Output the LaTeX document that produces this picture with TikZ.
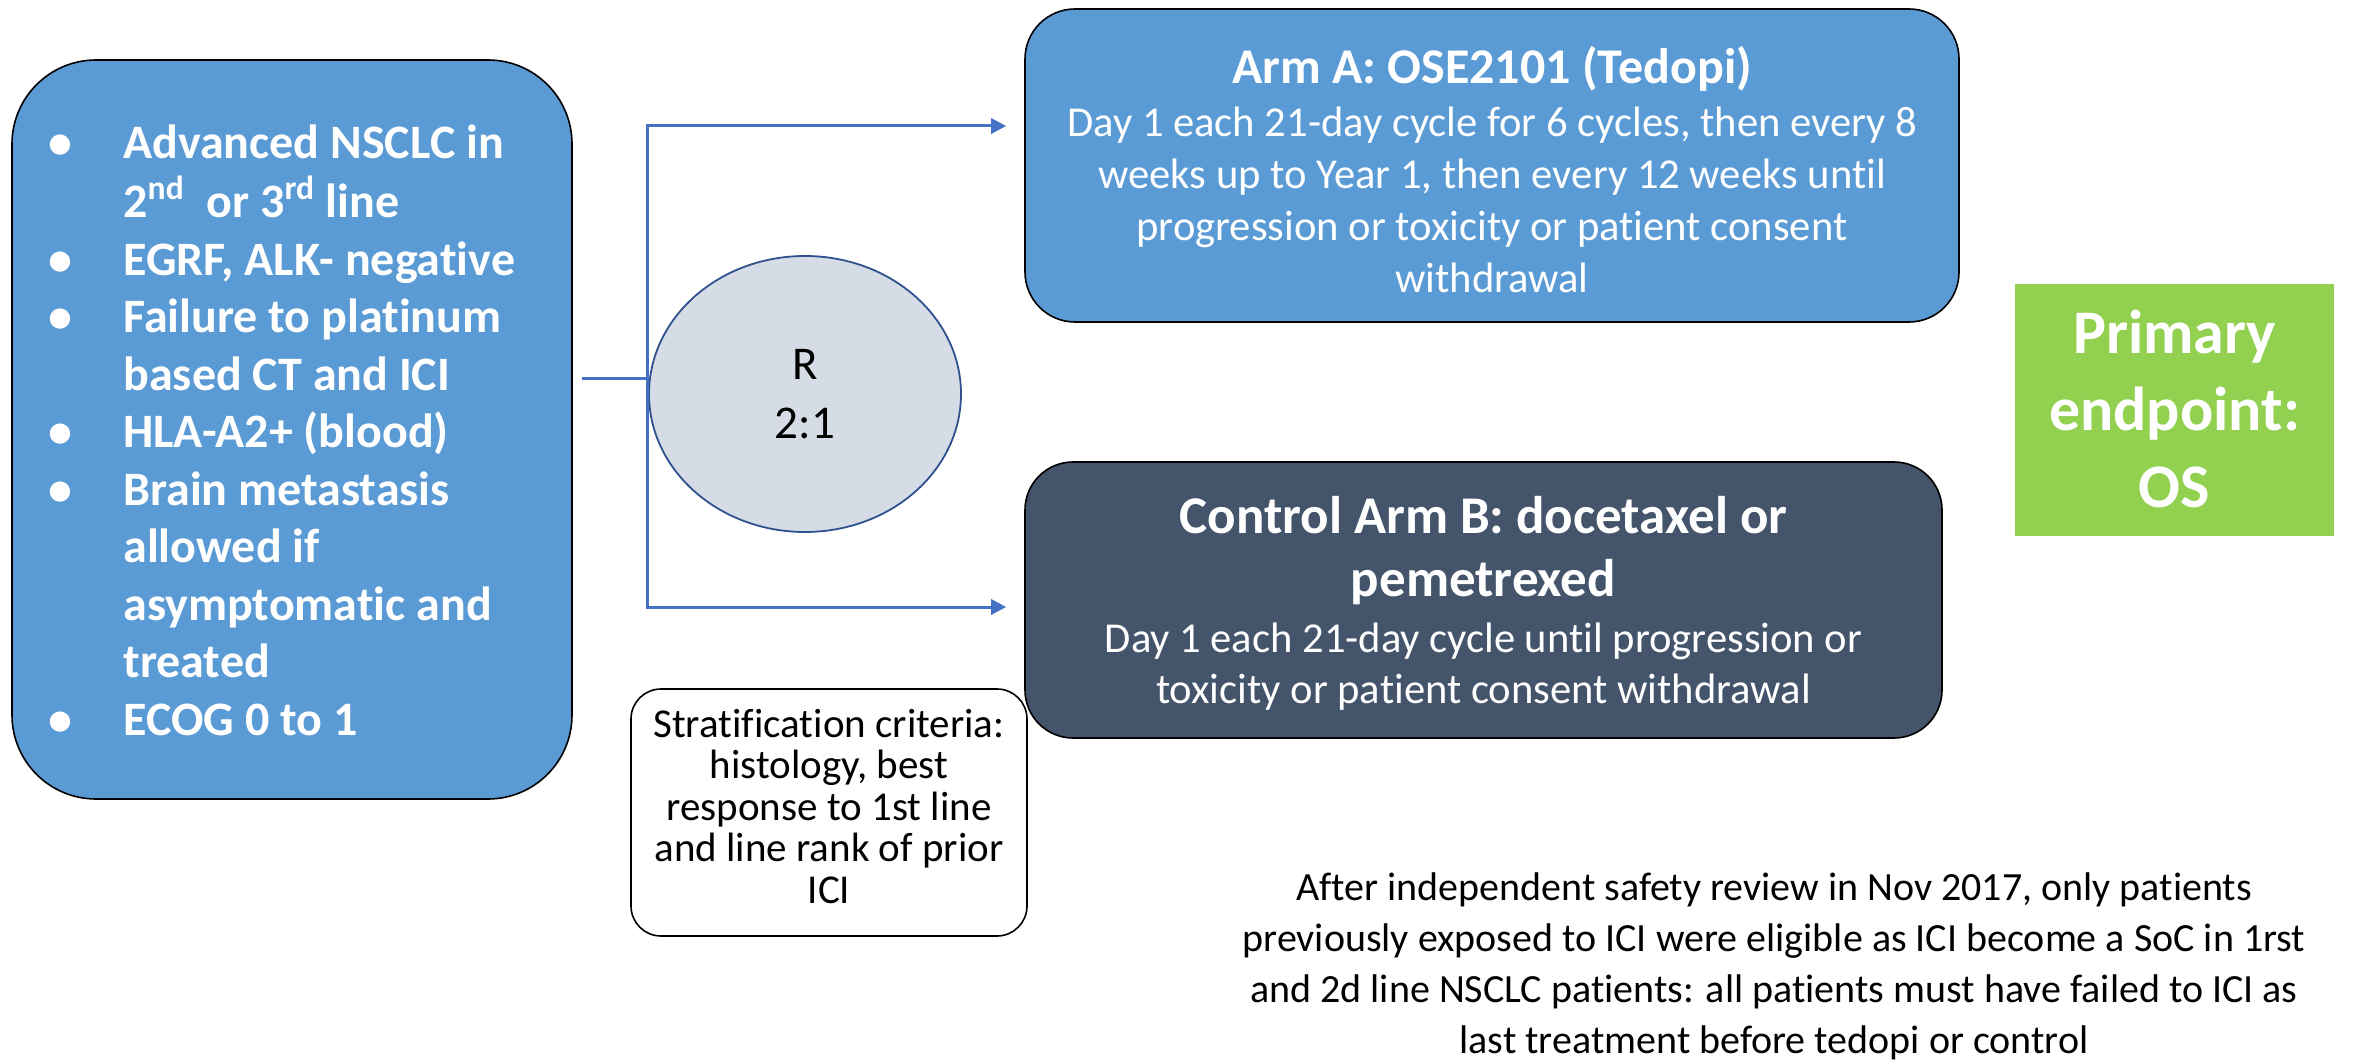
\documentclass[tikz,border=0pt]{standalone}
\usepackage{fontspec}
\setmainfont{Carlito}[Ligatures=NoCommon]
\usetikzlibrary{arrows.meta,shapes.geometric}
\definecolor{boxblue}{HTML}{5B9BD5}
\definecolor{slatebox}{HTML}{44546A}
\definecolor{linkblue}{HTML}{4472C4}
\definecolor{ellfill}{HTML}{D6DCE5}
\definecolor{elldraw}{HTML}{2F528F}
\definecolor{endgreen}{HTML}{92D050}
\begin{document}
\begin{tikzpicture}[x=0.5pt,y=-0.5pt,
  roundbox/.style={draw=black, line width=0.8pt, inner sep=0pt},
  link/.style={draw=linkblue, line width=1.5pt},
  wtext/.style={text=white, inner sep=0pt, anchor=base},
  ktext/.style={text=black, inner sep=0pt, anchor=base}]
\useasboundingbox (0,0) rectangle (2354,1063);

% eligibility box
\node[roundbox, fill=boxblue, rounded corners=42pt, minimum width=280pt, minimum height=369.5pt] (crit) at (292,429.5) {};
\node[text=white, inner sep=0pt, anchor=base west, font=\fontsize{24}{28.75}\selectfont\bfseries] (crittext) at (48,159)
 {\begin{tabular}[t]{@{}p{37.5pt}@{}l@{}}
 \textbullet & Advanced NSCLC in\\
  & 2\textsuperscript{nd}~ or 3\textsuperscript{rd} line\\
 \textbullet & EGRF, ALK- negative\\
 \textbullet & Failure to platinum\\
  & based CT and ICI\\
 \textbullet & HLA-A2+ (blood)\\
 \textbullet & Brain metastasis\\
  & allowed if\\
  & asymptomatic and\\
  & treated\\
 \textbullet & ECOG 0 to 1
 \end{tabular}};

% randomisation
\node[ellipse, draw=elldraw, fill=ellfill, line width=0.9pt, inner sep=0pt,
  minimum width=156pt, minimum height=138pt, align=center,
  font=\fontsize{23.5}{29.5}\selectfont] (rand) at (805,394) {R\\2:1};

% arm A
\node[roundbox, fill=boxblue, rounded corners=25pt, minimum width=467pt, minimum height=156.5pt] (armA) at (1492,165.5) {};
\node[wtext, font=\fontsize{25}{30}\selectfont\bfseries] (armAtitle) at (1492,84) {Arm A: OSE2101 (Tedopi)};
\node[wtext, font=\fontsize{21.3}{26}\selectfont] (armAbody) at (1492,137)
 {\begin{tabular}[t]{@{}c@{}}Day 1 each 21-day cycle for 6 cycles, then every 8\\
 weeks up to Year 1, then every 12 weeks until\\
 progression or toxicity or patient consent\\
 withdrawal\end{tabular}};

% arm B
\node[roundbox, fill=slatebox, rounded corners=24pt, minimum width=458.5pt, minimum height=138pt] (armB) at (1483.5,600) {};
\node[wtext, font=\fontsize{26.5}{32}\selectfont\bfseries] (armBtitle) at (1483.5,533)
 {\begin{tabular}[t]{@{}c@{}}Control Arm B: docetaxel or\\pemetrexed\end{tabular}};
\node[wtext, font=\fontsize{21.3}{25.5}\selectfont] (armBbody) at (1483.5,652)
 {\begin{tabular}[t]{@{}c@{}}Day 1 each 21-day cycle until progression or\\
 toxicity or patient consent withdrawal\end{tabular}};

% stratification
\node[roundbox, fill=white, rounded corners=15pt, minimum width=198pt, minimum height=123.5pt] (strat) at (829,812.5) {};
\node[ktext, font=\fontsize{20.5}{20.75}\selectfont] (strattext) at (829,737)
 {\begin{tabular}[t]{@{}c@{}}Stratification criteria:\\
 histology, best\\
 response to 1st line\\
 and line rank of prior\\
 ICI\end{tabular}};

% primary endpoint
\node[fill=endgreen, inner sep=0pt, minimum width=159.5pt, minimum height=126pt] (endp) at (2174.5,410) {};
\node[wtext, font=\fontsize{31}{38.5}\selectfont\bfseries] (endptext) at (2174.5,354)
 {\begin{tabular}[t]{@{}c@{}}Primary\\endpoint:\\OS\end{tabular}};

% note
\node[ktext, font=\fontsize{20}{25.5}\selectfont] (note) at (1774,900)
 {\begin{tabular}[t]{@{}c@{}}After independent safety review in Nov 2017, only patients\\
 previously exposed to ICI were eligible as ICI become a SoC in 1rst\\
 and 2d line NSCLC patients: all patients must have failed to ICI as\\
 last treatment before tedopi or control\end{tabular}};

% connectors
\coordinate (split) at (647,379);
\coordinate (upper) at (647,126);
\coordinate (lower) at (647,607);
\draw[link] ([xshift=4.5pt]crit.east |- split) -- (split);
\draw[link, {Triangle[length=7.5pt,width=7.5pt]}-{Triangle[length=7.5pt,width=7.5pt]}, shorten <=9pt, shorten >=9pt]
  (armA.west |- upper) -- (upper) -- (lower) -- (armB.west |- lower);
\end{tikzpicture}
\end{document}
